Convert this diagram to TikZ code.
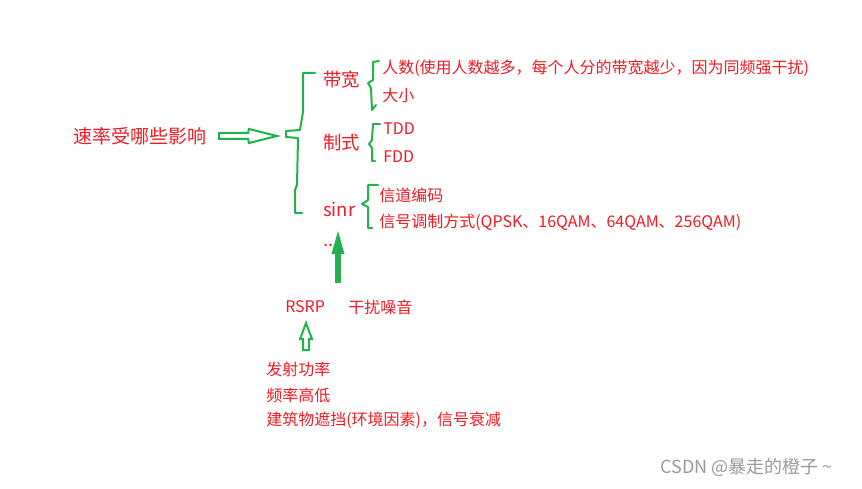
\documentclass[tikz,border=0pt]{standalone}
\usepackage{fontspec}
\setmainfont{Noto Sans CJK SC}
\usetikzlibrary{arrows.meta,positioning,calc}
\definecolor{vermelho}{HTML}{ED1C24}
\definecolor{verde}{HTML}{22B14C}
\definecolor{cinza}{HTML}{9A9A9A}

\begin{document}
\begin{tikzpicture}[x=0.75pt, y=-0.75pt,
  texto/.style={anchor=west, inner sep=0pt, text=vermelho,
                font=\fontsize{12}{14}\selectfont},
  titulo/.style={texto, font=\fontsize{14.25}{17}\selectfont},
  ramo/.style={texto, font=\fontsize{13.8}{16}\selectfont},
  marca/.style={texto, text=cinza, font=\fontsize{13.5}{15}\selectfont},
  chave/.style={draw=verde, line width=1.5pt, line join=round, line cap=round},
  oca/.style={draw=verde, line width=1.5pt, fill=white, line join=miter},
  grossa/.style={draw=verde, line width=4.5pt, -{Triangle[length=21pt, width=8pt]}}]

  \useasboundingbox (0,0) rectangle (862,488);

  \node[titulo] (q) at (73,136) {速率受哪些影响};

  \node[ramo] (bw) at (323,80) {带宽};
  \node[ramo] (zs) at (323,143) {制式};
  \node[ramo] (sinr) at (323,209) {sinr};
  \node[ramo] (etc) at (323,245) {..};

  \node[texto] (rs) at (382,68) {人数(使用人数越多，每个人分的带宽越少，因为同频强干扰)};
  \node[texto] (dx) at (382,95) {大小};
  \node[texto] (tdd) at (383,129) {TDD};
  \node[texto] (fdd) at (383,157) {FDD};
  \node[texto] (xd) at (379,195) {信道编码};
  \node[texto] (tz) at (379,222) {信号调制方式(QPSK、16QAM、64QAM、256QAM)};

  \node[texto] (rsrp) at (285,307) {RSRP};
  \node[texto] (gr) at (348,307) {干扰噪音};

  \node[texto] (fs) at (266,369) {发射功率};
  \node[texto] (pl) at (266,395) {频率高低};
  \node[texto] (jz) at (266,420) {建筑物遮挡(环境因素)，信号衰减};

  \node[marca] (csdn) at (660,467) {CSDN @暴走的橙子 \textasciitilde};

  % setas ocas
  \draw[oca] (219,133) -- (248,133) -- (249,129) -- (277,136) -- (249,143)
    -- (248,139) -- (219,139) -- cycle;
  \draw[oca] (303,350) -- (303,339) -- (300,339) -- (306,323) -- (312,339)
    -- (309,339) -- (309,350) -- cycle;

  \coordinate (base) at (338,283);
  \coordinate (topo) at (338,226);
  \draw[grossa] (base) -- (topo);

  % chaves
  \draw[chave] (315,73) -- (303,73) -- (303,112) -- (300,130) -- (286,131)
    -- (286,137) -- (298,138) -- (297,185) -- (295,190) -- (295,213) -- (302,213);
  \draw[chave] (379,61) -- (373,62) -- (373,80) -- (368,83) -- (371,88)
    -- (372,110) -- (376,105);
  \draw[chave] (380,124) -- (373,124) -- (372,140) -- (369,144) -- (372,148)
    -- (372,161) -- (375,161);
  \draw[chave] (378,185) -- (368,185) -- (368,200) -- (362,204) -- (368,207)
    -- (368,228) -- (372,228);
\end{tikzpicture}
\end{document}
